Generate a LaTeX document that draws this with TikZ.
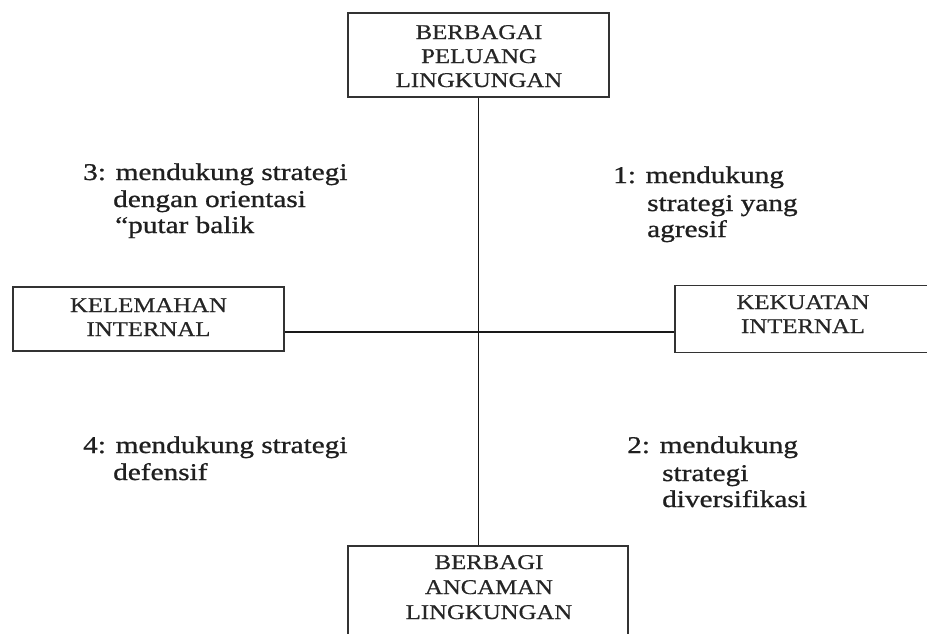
\documentclass[tikz,border=0pt]{standalone}
\usepackage{fontspec}
\setmainfont{Liberation Serif}
\newfontfamily\boxfont{Liberation Serif}[FakeStretch=1.18,FakeBold=0.6]
\newfontfamily\quadfont{Liberation Serif}[FakeStretch=1.22,FakeBold=0.9]
\begin{document}
\begin{tikzpicture}[x=1pt,y=-1pt,
  box/.style={draw=black!80, line width=1.9pt, rectangle, inner sep=0pt},
  btxt/.style={anchor=base, inner sep=0pt, text=black!85, font=\boxfont\fontsize{21}{24}\selectfont},
  qtxt/.style={anchor=base west, inner sep=0pt, text=black!88, font=\quadfont\fontsize{24}{27}\selectfont},
  axis/.style={draw=black!90, line width=1.7pt}]
\clip (0,0) rectangle (927,633);
\fill[white] (0,0) rectangle (927,633);
% boxes
\node[box, minimum width=261, minimum height=84] (top) at (478.5,55) {};
\node[box, minimum width=280, minimum height=120, anchor=north] (bot) at (488,545) {};
\node[box, minimum width=271, minimum height=64] (left) at (148.5,319) {};
\node[box, minimum width=258, minimum height=67, anchor=north west] (right) at (674,284.5) {};
% box texts
\node[btxt] (t1) at (479,39) {BERBAGAI};
\node[btxt] (t2) at (479,63) {PELUANG};
\node[btxt] (t3) at (479,87) {LINGKUNGAN};
\node[btxt] (b1) at (489,569) {BERBAGI};
\node[btxt] (b2) at (489,594) {ANCAMAN};
\node[btxt] (b3) at (489,619) {LINGKUNGAN};
\node[btxt] (l1) at (148.5,312) {KELEMAHAN};
\node[btxt] (l2) at (148.5,336) {INTERNAL};
\node[btxt] (r1) at (803,309) {KEKUATAN};
\node[btxt] (r2) at (803,333) {INTERNAL};
% axes
\coordinate (h) at (0,332);
\draw[axis] (top.south) -- (top.south |- bot.north);
\draw[axis] (left.east |- h) -- (right.west |- h);
% quadrant texts
\node[qtxt] (q3a) at (83,180) {3: mendukung strategi};
\node[qtxt] (q3b) at (113,207) {dengan orientasi};
\node[qtxt] (q3c) at (115,233) {“putar balik};
\node[qtxt] (q1a) at (613,183) {1: mendukung};
\node[qtxt] (q1b) at (647,211) {strategi yang};
\node[qtxt] (q1c) at (647,237) {agresif};
\node[qtxt] (q4a) at (83,453) {4: mendukung strategi};
\node[qtxt] (q4b) at (113,480) {defensif};
\node[qtxt] (q2a) at (627,453) {2: mendukung};
\node[qtxt] (q2b) at (662,481) {strategi};
\node[qtxt] (q2c) at (662,507) {diversifikasi};
\end{tikzpicture}
\end{document}
